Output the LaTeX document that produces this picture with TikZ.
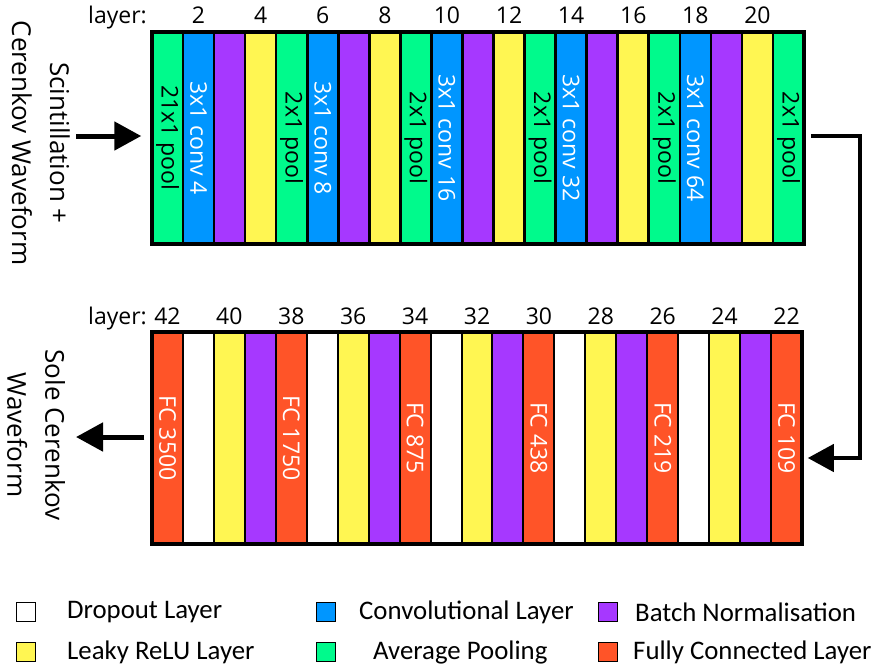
\documentclass[tikz,border=0pt]{standalone}
\usepackage{fontspec}
\setmainfont{Open Sans}
\newfontfamily\legfont{Carlito}
\usetikzlibrary{arrows.meta}
\definecolor{cgreen}{RGB}{0,250,140}
\definecolor{cblue}{RGB}{0,150,255}
\definecolor{cpurple}{RGB}{166,56,255}
\definecolor{cyellow}{RGB}{255,246,82}
\definecolor{cred}{RGB}{255,84,40}
\tikzset{
  stripe/.style={draw=black, line width=2.6pt, rotate=-90, minimum width=212pt, minimum height=652pt/21, inner sep=0pt, font=\fontsize{23}{27}\selectfont},
  bstripe/.style={stripe, line width=2pt, minimum height=650pt/21},
  outerbox/.style={draw=black, line width=3.5pt, inner sep=0pt},
  num/.style={anchor=base, inner sep=0pt, font=\fontsize{23}{27}\selectfont},
  sidelabel/.style={rotate=-90, align=center, inner sep=0pt, font=\fontsize{26}{38}\selectfont},
  bigarrow/.style={line width=5pt, -{Triangle[length=27pt,width=28pt]}},
  conn/.style={line width=4.5pt, line join=miter, -{Triangle[length=26pt,width=27pt]}},
  legsq/.style={draw=black, line width=1.3pt, minimum width=19pt, minimum height=19pt, inner sep=0pt},
  legtext/.style={anchor=west, inner sep=0pt, font=\legfont\fontsize{26.8}{30}\selectfont},
}
\begin{document}
\begin{tikzpicture}[x=1pt,y=-1pt]
\useasboundingbox (0,0) rectangle (875,670);

% ---------- top row ----------
\foreach \i/\c/\t/\tc in {1/cgreen/21x1 pool/black, 2/cblue/3x1 conv 4/white, 3/cpurple//black, 4/cyellow//black,
  5/cgreen/2x1 pool/black, 6/cblue/3x1 conv 8/white, 7/cpurple//black, 8/cyellow//black,
  9/cgreen/2x1 pool/black, 10/cblue/3x1 conv 16/white, 11/cpurple//black, 12/cyellow//black,
  13/cgreen/2x1 pool/black, 14/cblue/3x1 conv 32/white, 15/cpurple//black, 16/cyellow//black,
  17/cgreen/2x1 pool/black, 18/cblue/3x1 conv 64/white, 19/cpurple//black, 20/cyellow//black,
  21/cgreen/2x1 pool/black}
  \node[stripe, fill=\c, text=\tc] (t\i) at ({152+(\i-0.5)*652/21},138) {\t};
\node[outerbox, minimum width=652pt, minimum height=212pt] (topbox) at (478,138) {};

\node[num, anchor=base east] (toplayer) at (147,23) {layer:};
\foreach \i in {2,4,...,20}
  \node[num] (tn\i) at ({152+(\i-0.5)*652/21},23) {\i};

% ---------- bottom row ----------
\foreach \i/\c/\t in {1/cred/FC 3500, 2/white/, 3/cyellow/, 4/cpurple/,
  5/cred/FC 1750, 6/white/, 7/cyellow/, 8/cpurple/,
  9/cred/FC 875, 10/white/, 11/cyellow/, 12/cpurple/,
  13/cred/FC 438, 14/white/, 15/cyellow/, 16/cpurple/,
  17/cred/FC 219, 18/white/, 19/cyellow/, 20/cpurple/,
  21/cred/FC 109}
  \node[bstripe, fill=\c, text=white] (b\i) at ({152+(\i-0.5)*650/21},438) {\t};
\node[outerbox, minimum width=650pt, minimum height=212pt] (botbox) at (477,438) {};

\node[num, anchor=base east] (botlayer) at (147,324) {layer:};
\foreach \i [evaluate=\i as \L using int(43-\i)] in {1,3,...,21}
  \node[num] (bn\i) at ({152+(\i-0.5)*650/21},324) {\L};

% ---------- side labels ----------
\node[sidelabel] (inlabel) at (41,143) {Scintillation +\\Cerenkov Waveform};
\node[sidelabel] (outlabel) at (36,435) {Sole Cerenkov\\Waveform};

% ---------- connectors ----------
\coordinate (inS) at (76,136);
\draw[bigarrow, shorten >=9pt] (inS) -- (inS -| topbox.west);
\coordinate (outE) at (76,437);
\draw[bigarrow, shorten <=6pt] (outE -| botbox.west) -- (outE);
\coordinate (turn) at (860,458);
\draw[conn, shorten >=4pt] ([xshift=5pt,yshift=2pt]topbox.east) -| (turn) -- (turn -| botbox.east);

% ---------- legend ----------
\node[legsq, fill=white]   (sq1) at (26,612) {};
\node[legtext] (lt1) at (67,612) {Dropout Layer};
\node[legsq, fill=cyellow] (sq2) at (26,652) {};
\node[legtext] (lt2) at (67,652) {Leaky ReLU Layer};
\node[legsq, fill=cblue]   (sq3) at (326,612) {};
\node[legtext] (lt3) at (359,612) {Convolutional Layer};
\node[legsq, fill=cgreen]  (sq4) at (326,652) {};
\node[legtext] (lt4) at (373,652) {Average Pooling};
\node[legsq, fill=cpurple] (sq5) at (608,612) {};
\node[legtext] (lt5) at (635,612) {Batch Normalisation};
\node[legsq, fill=cred]    (sq6) at (608,652) {};
\node[legtext] (lt6) at (633,652) {Fully Connected Layer};
\end{tikzpicture}
\end{document}
